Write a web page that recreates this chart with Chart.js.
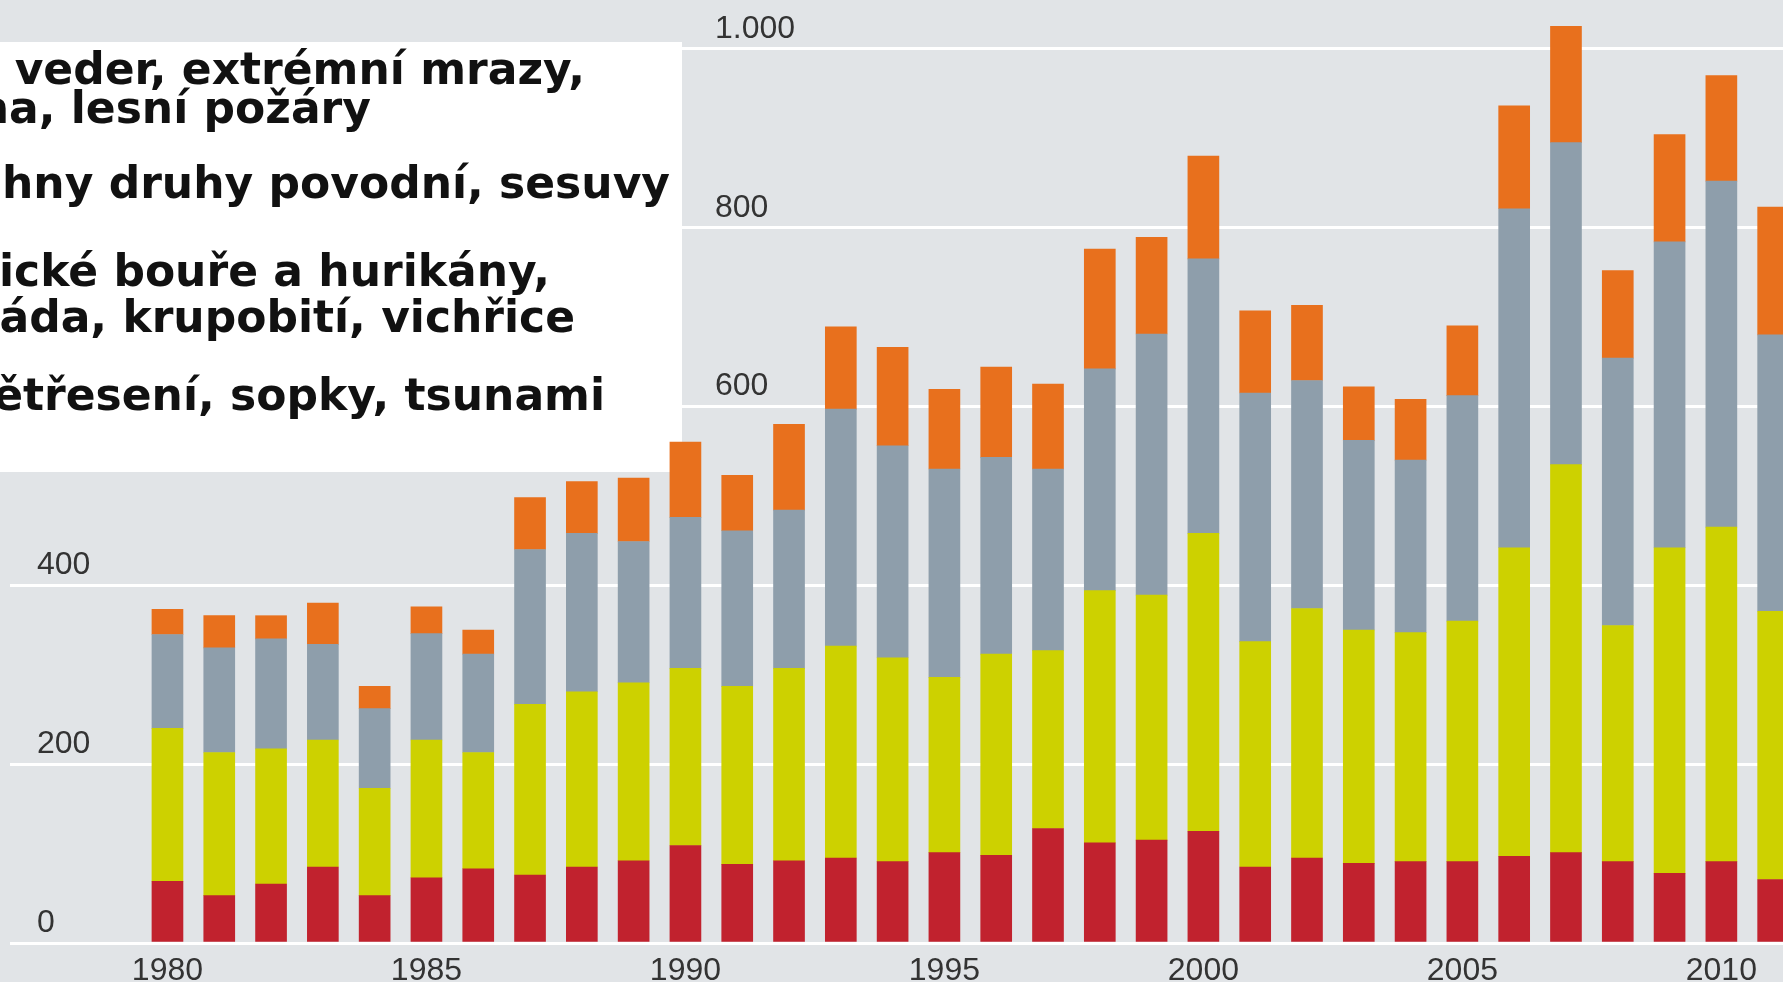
<!DOCTYPE html>
<html lang="cs">
<head>
<meta charset="utf-8">
<title>Přírodní katastrofy 1980–2011</title>
<script src="https://cdn.jsdelivr.net/npm/chart.js@4.4.1/dist/chart.umd.min.js"></script>
<style>
  html, body { margin: 0; padding: 0; background: #e1e4e7; overflow: hidden; }
  #chart { display: block; }
</style>
</head>
<body>
<canvas id="chart" width="1783" height="982"></canvas>
<script>
// ===============================
// == DATA (počet událostí za rok)
// ===============================
const years = [1980, 1981, 1982, 1983, 1984, 1985, 1986, 1987, 1988, 1989, 1990,
               1991, 1992, 1993, 1994, 1995, 1996, 1997, 1998, 1999, 2000,
               2001, 2002, 2003, 2004, 2005, 2006, 2007, 2008, 2009, 2010, 2011];

// red – geophysical
const geophysical    = [69, 53, 66, 85, 53, 73, 83, 76, 85, 92, 109,
                        88, 92, 95, 91, 101, 98, 128, 112, 115, 125,
                        85, 95, 89, 91, 91, 97, 101, 91, 78, 91, 71];
// yellow – meteorological
const meteorological = [171, 160, 151, 142, 120, 154, 130, 191, 196, 199, 198,
                        199, 215, 237, 228, 196, 225, 199, 282, 274, 333,
                        252, 279, 261, 256, 269, 345, 434, 264, 364, 374, 300];
// gray – hydrological
const hydrological   = [105, 117, 123, 107, 89, 119, 110, 173, 177, 158, 169,
                        174, 177, 265, 237, 233, 220, 203, 248, 292, 307,
                        278, 255, 212, 193, 252, 379, 360, 299, 342, 387, 309];
// orange – climatological
const climatological = [28, 36, 26, 46, 25, 30, 27, 58, 58, 71, 84,
                        62, 96, 92, 110, 89, 101, 95, 134, 108, 115,
                        92, 84, 60, 68, 78, 115, 130, 98, 120, 118, 143];

const xTickValues = [1980, 1985, 1990, 1995, 2000, 2005, 2010];
const xTickLabels = ['1980', '1985', '1990', '1995', '2000', '2005', '2010'];
const yTickValues = [0, 200, 400, 600, 800, 1000];
const yTickLabels = ['0', '200', '400', '600', '800', '1.000'];

// visible (cropped) legend text, top to bottom
const legendLines = [
    'veder, extrémní mrazy,',
    'ha, lesní požáry',
    'hny druhy povodní, sesuvy',
    'ické bouře a hurikány,',
    'áda, krupobití, vichřice',
    'ětřesení, sopky, tsunami'
];

// ===============================
// == LAYOUT
// ===============================
const BOX = { x: 0, y: 42, w: 682, h: 430 };
const legendRight = [585, 371, 670, 550, 575, 605];
const legendBase = [84, 123, 198, 286, 332, 410];
const COLORS = {
    red: '#c1222e',
    yellow: '#cdd100',
    gray: '#8e9eab',
    orange: '#e8701d',
    text: '#333333'
};

const toPoints = arr => arr.map((v, i) => ({ x: years[i], y: v }));

// legend box + y tick labels, drawn between the grid and the bars
const overlayPlugin = {
    id: 'overlay',
    beforeDatasetsDraw(chart) {
        const ctx = chart.ctx;
        ctx.save();
        ctx.fillStyle = '#ffffff';
        ctx.fillRect(BOX.x, BOX.y, BOX.w, BOX.h);

        ctx.fillStyle = '#111111';
        ctx.font = 'bold 44px "DejaVu Sans"';
        ctx.textAlign = 'right';
        ctx.textBaseline = 'alphabetic';
        legendLines.forEach((t, i) => ctx.fillText(t, legendRight[i], legendBase[i]));

        const yScale = chart.scales.y;
        ctx.font = '32px "Liberation Sans", Arial, sans-serif';
        ctx.fillStyle = COLORS.text;
        ctx.textAlign = 'left';
        yTickValues.forEach((v, i) => {
            const py = yScale.getPixelForValue(v);
            const px = py < BOX.y + BOX.h ? 715 : 37;
            ctx.fillText(yTickLabels[i], px, py - 11);
        });
        ctx.restore();
    }
};

new Chart(document.getElementById('chart'), {
    type: 'bar',
    data: {
        datasets: [
            { label: 'Zemětřesení, sopky, tsunami', data: toPoints(geophysical), backgroundColor: COLORS.red },
            { label: 'Tropické bouře a hurikány, tornáda, krupobití, vichřice', data: toPoints(meteorological), backgroundColor: COLORS.yellow },
            { label: 'Všechny druhy povodní, sesuvy', data: toPoints(hydrological), backgroundColor: COLORS.gray },
            { label: 'Vlny veder, extrémní mrazy, sucha, lesní požáry', data: toPoints(climatological), backgroundColor: COLORS.orange }
        ]
    },
    options: {
        responsive: false,
        animation: false,
        devicePixelRatio: 1,
        layout: { padding: { left: 10, top: 4, right: 0, bottom: 0 } },
        datasets: { bar: { barThickness: 31, borderWidth: 0 } },
        plugins: {
            legend: { display: false },
            tooltip: { enabled: false }
        },
        scales: {
            x: {
                type: 'linear',
                stacked: true,
                offset: false,
                min: 1976.96,
                max: 2011.19,
                grid: { display: false, drawTicks: false },
                border: { display: false },
                afterBuildTicks: s => { s.ticks = xTickValues.map(v => ({ value: v })); },
                afterFit: s => { s.height = 39; },
                ticks: {
                    padding: 9,
                    maxRotation: 0,
                    autoSkip: false,
                    color: COLORS.text,
                    font: { family: '"Liberation Sans", Arial, sans-serif', size: 32 },
                    callback: v => xTickLabels[xTickValues.indexOf(v)]
                }
            },
            y: {
                stacked: true,
                min: 0,
                max: 1050,
                afterBuildTicks: s => { s.ticks = yTickValues.map(v => ({ value: v })); },
                grid: { color: '#ffffff', lineWidth: 3, drawTicks: false },
                border: { display: false },
                ticks: { display: false }
            }
        }
    },
    plugins: [overlayPlugin]
});
</script>
</body>
</html>
